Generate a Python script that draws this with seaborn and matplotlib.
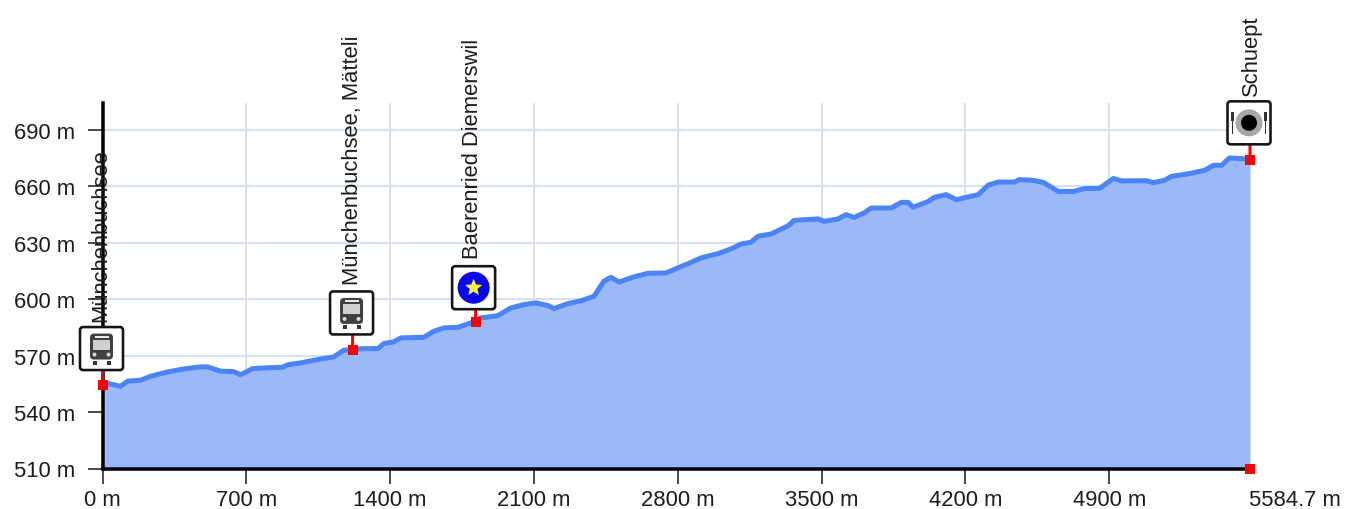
import pandas as pd
import seaborn as sns
import matplotlib
matplotlib.use("Agg")
import matplotlib.pyplot as plt
from matplotlib.patches import Circle, FancyBboxPatch, Rectangle, PathPatch
from matplotlib.path import Path
from matplotlib.offsetbox import AnnotationBbox, DrawingArea
from matplotlib.transforms import Affine2D

distance = [0,29,88,122,185,234,317,395,477,511,575,638,672,731,804,877,901,964,1047,1125,1174,1208,1271,1340,1369,1417,1452,1564,1612,1661,1729,1793,1841,1924,1987,2051,2109,2168,2197,2265,2328,2392,2440,2474,2513,2586,2655,2742,2801,2864,2913,2996,3059,3108,3156,3190,3254,3337,3366,3415,3483,3512,3580,3619,3658,3707,3741,3838,3887,3921,3945,4019,4048,4106,4155,4213,4262,4311,4360,4438,4462,4530,4579,4652,4725,4779,4852,4920,4959,5080,5115,5168,5202,5285,5363,5407,5446,5485,5567,5584.7]
elevation = [555.4,555.1,553.7,556.4,556.9,559.0,561.3,562.9,564.0,564.0,561.7,561.5,559.8,563.1,563.5,563.8,565.1,566.1,567.9,569.3,572.8,573.2,573.7,573.7,576.4,577.3,579.4,579.7,582.9,584.7,585.0,587.4,590.0,591.2,595.3,597.1,598.0,596.6,595.0,597.6,599.1,601.5,609.5,611.6,609.1,611.8,613.7,613.9,616.6,619.5,621.9,624.2,626.7,629.3,630.2,633.4,634.6,639.0,641.8,642.2,642.6,641.3,642.6,644.9,643.4,645.8,648.4,648.4,651.4,651.4,648.8,651.9,654.1,655.5,652.8,654.3,655.5,660.6,662.2,662.2,663.5,663.1,662.0,657.2,657.2,658.7,658.8,664.1,662.8,662.9,661.9,663.1,665.2,666.6,668.4,671.1,671.1,675.0,674.5,674.1]
x_ticks = [0,700,1400,2100,2800,3500,4200,4900]
y_ticks = [510,540,570,600,630,660,690]
poi_names = ["Münchenbuchsee","Münchenbuchsee, Mätteli","Baerenried Diemerswil","Schuept"]
poi_x = [0,1217,1816,5584.7]
poi_y = [554.6,573,588,674]
poi_icon = ["bus","bus","star","food"]
end_x = 5584.7
total_label = "5584.7 m"

W, H = 1365, 510
DPI = 100
PT = 72/DPI
FS = 22*PT
TXT = "#1c1c1c"
sns.set_theme(style="white")
plt.rcParams["font.family"] = ["Liberation Sans", "DejaVu Sans"]

fig = plt.figure(figsize=(W/DPI, H/DPI), dpi=DPI)
ax = fig.add_axes([102.5/W, 1-469.5/H, (1250-102.5)/W, (469.5-104)/H])
ax.set_xlim(0, end_x)
ax.set_ylim(510, 704.2)

df = pd.DataFrame({"distance": distance, "elevation": elevation})
ax.fill_between(distance, elevation, 510, color="#9bb9f8", lw=0, zorder=2)
sns.lineplot(data=df, x="distance", y="elevation", ax=ax, color="#4a84f6", lw=5*PT, zorder=3,
             errorbar=None, estimator=None, sort=False)

ax.set_xticks(x_ticks)
ax.set_yticks(y_ticks)
ax.set_xticklabels([f"{v} m" for v in x_ticks])
ax.set_yticklabels([f"{v} m" for v in y_ticks])
ax.set_xlabel("")
ax.set_ylabel("")
ax.grid(True, color="#d6e1f9", lw=2*PT, zorder=1)
ax.set_axisbelow(True)
for s in ("top", "right"):
    ax.spines[s].set_visible(False)
for s in ("left", "bottom"):
    ax.spines[s].set_linewidth(3.5*PT)
    ax.spines[s].set_color("black")
    ax.spines[s].set_zorder(5)
ax.tick_params(axis="both", length=15*PT, width=1.6*PT, color="#222222", labelcolor=TXT,
               labelsize=FS, bottom=True, left=True)
ax.tick_params(axis="y", pad=12*PT)
ax.tick_params(axis="x", pad=6*PT)

ax.annotate(total_label, (end_x, 510), xytext=(-1*PT, -21*PT), textcoords="offset points",
            ha="left", va="top", fontsize=FS, color=TXT, annotation_clip=False)


def px(v):
    return v*PT


def make_icon(kind):
    S = 46
    da = DrawingArea(px(S), px(S), 0, 0, clip=False)
    da.add_artist(FancyBboxPatch((px(1.5), px(1.5)), px(S-3), px(S-3),
                                 boxstyle=f"round,pad=0,rounding_size={px(3)}",
                                 fc="white", ec="#151515", lw=2.6*PT))
    c = S/2
    if kind == "bus":
        da.add_artist(FancyBboxPatch((px(c-11.5), px(c-11)), px(23), px(26),
                                     boxstyle=f"round,pad=0,rounding_size={px(4)}",
                                     fc="#404040", ec="none"))
        da.add_artist(Rectangle((px(c-8.5), px(c-1)), px(17), px(10), fc="#cfcfcf", ec="none"))
        da.add_artist(Rectangle((px(c-7), px(c+11)), px(14), px(2), fc="#e8e8e8", ec="none"))
        for dx in (-7, 7):
            da.add_artist(Circle((px(c+dx), px(c-6)), px(2), fc="#d8d8d8", ec="none"))
            da.add_artist(Rectangle((px(c+dx-2), px(c-16)), px(4), px(4), fc="#333333", ec="none"))
    elif kind == "star":
        da.add_artist(Circle((px(c), px(c)), px(16), fc="#0808e8", ec="none"))
        star = Path.unit_regular_star(5, 0.45)
        tr = Affine2D().scale(px(9)).translate(px(c), px(c))
        da.add_artist(PathPatch(star.transformed(tr), fc="#f7f23c", ec="none"))
    else:
        da.add_artist(Circle((px(c), px(c)), px(13.5), fc="#a8a8a8", ec="none"))
        da.add_artist(Circle((px(c), px(c)), px(8), fc="#000000", ec="none"))
        for dx in (-16.5, 16.5):
            da.add_artist(Rectangle((px(c+dx-0.8), px(c-11)), px(1.6), px(22), fc="#333333", ec="none"))
            da.add_artist(Rectangle((px(c+dx-1.5), px(c+2)), px(3), px(9), fc="#333333", ec="none"))
    return da


box_rise = [36, 37, 34, 37]
box_shift = [-1, -1, -2, -1]
label_shift = [-2, 0, -3, 1]
label_rise = [64, 66, 64, 65]
for name, xv, yv, kind, rise, bs, ls, lr in zip(poi_names, poi_x, poi_y, poi_icon, box_rise,
                                                 box_shift, label_shift, label_rise):
    ax.annotate("", xy=(xv, yv), xytext=(0, rise*PT), textcoords="offset points",
                arrowprops=dict(arrowstyle="-", color="#ff0000", lw=3*PT, shrinkA=0, shrinkB=0),
                annotation_clip=False, zorder=6)
    ab = AnnotationBbox(make_icon(kind), (xv, yv), xybox=(bs*PT, rise*PT),
                        boxcoords="offset points", frameon=False, pad=0,
                        box_alignment=(0.5, 0.5), annotation_clip=False, zorder=7)
    ax.add_artist(ab)
    ax.annotate(name, (xv, yv), xytext=(ls*PT, lr*PT), textcoords="offset points",
                rotation=90, ha="center", va="bottom", fontsize=FS, color=TXT,
                annotation_clip=False, zorder=8)

sns.scatterplot(x=poi_x+[end_x], y=poi_y+[510], ax=ax, marker="s", s=(10*PT)**2, color="#ff0000",
                linewidth=0, zorder=9, clip_on=False, legend=False)

fig.savefig("out.png", dpi=DPI, facecolor="white")
